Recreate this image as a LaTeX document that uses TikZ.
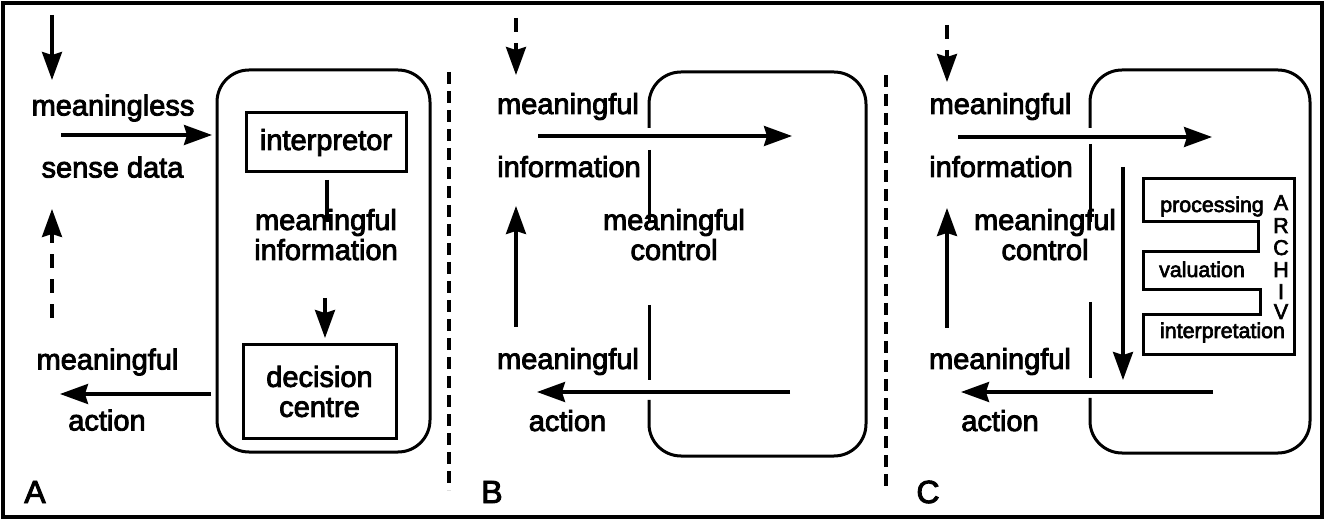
\documentclass[tikz,border=0pt]{standalone}
\usepackage{fontspec}
\setmainfont{Liberation Sans}[BoldFont={Liberation Sans},BoldFeatures={FakeBold=3}]
\usetikzlibrary{arrows.meta}
\begin{document}
\begin{tikzpicture}[x=1pt,y=-1pt,
  lbl/.style={anchor=base,inner sep=0pt,font=\fontsize{29}{30}\bfseries\selectfont,align=center},
  small/.style={anchor=base,inner sep=0pt,font=\fontsize{21.4}{22}\bfseries\selectfont},
  panel/.style={anchor=base,inner sep=0pt,font=\fontsize{32}{32}\bfseries\selectfont},
  arr/.style={line width=3.2pt,-{Stealth[length=28pt,width=20pt,inset=3pt]}},
  darr/.style={arr,dash pattern=on 14pt off 11pt},
  boxline/.style={line width=3pt},
  divider/.style={line width=3.2pt,dash pattern=on 12pt off 7pt},
  rbox/.style={line width=3pt,rounded corners=32pt}]
\useasboundingbox (0,0) rectangle (1326,521);
\draw[line width=3.2pt] (3,3) rectangle (1322,517);

% ---------- Panel A ----------
\node[lbl] (aT1) at (113,115.5) {meaningless};
\node[lbl] (aT2) at (112.5,177.5) {sense data};
\node[lbl] (aT3) at (107.5,369.5) {meaningful};
\node[lbl] (aT4) at (107,430.5) {action};
\node[panel] (aL) at (35,503) {A};
\draw[rbox] (217,70) rectangle (430,452);
\node[boxline,draw,minimum width=160pt,minimum height=59pt,inner sep=0pt,
      font=\fontsize{29}{30}\bfseries\selectfont] (interp) at (326,142.5) {interpretor};
\node[lbl] (mi) at (326,260) {meaningful\\information};
\node[boxline,draw,minimum width=153pt,minimum height=93pt,inner sep=0pt,
      font=\fontsize{29}{30}\bfseries\selectfont,align=center] (dec) at (319.5,391.5) {decision\\centre};
\coordinate (a1s) at (52,15);   \coordinate (a1e) at (52,80);
\coordinate (a2s) at (52,318);  \coordinate (a2e) at (52,209);
\coordinate (a3s) at (61,135);  \coordinate (a3e) at (212,135);
\coordinate (a4s) at (211,394); \coordinate (a4e) at (60,394);
\coordinate (a5s) at (327,180); \coordinate (a5e) at (327,222);
\coordinate (a6s) at (325,298); \coordinate (a6e) at (325,338);
\draw[arr] (a1s) -- (a1e);
\draw[darr] (a2s) -- (a2e);
\draw[arr] (a3s) -- (a3e);
\draw[arr] (a4s) -- (a4e);
\draw[line width=3.2pt] (a5s) -- (a5e);
\draw[arr] (a6s) -- (a6e);

\coordinate (d1s) at (449,72); \coordinate (d1e) at (449,490);
\draw[divider] (d1s) -- (d1e);

% ---------- Panel B ----------
\node[lbl] (bT1) at (568,114) {meaningful};
\node[lbl] (bT2) at (569,177) {information};
\node[lbl] (bT3) at (568,369) {meaningful};
\node[lbl] (bT4) at (567.5,431) {action};
\node[lbl] (bT5) at (674,260) {meaningful\\control};
\node[panel] (bL) at (492,503) {B};
\draw[rbox] (649,128) -- (649,72) -- (866,72) -- (866,456) -- (649,456) -- (649,400);
\draw[boxline] (649,150) -- (649,222);
\draw[boxline] (649,305) -- (649,380);
\coordinate (b1s) at (516,18);  \coordinate (b1e) at (516,75);
\coordinate (b2s) at (516,327); \coordinate (b2e) at (516,206);
\coordinate (b3s) at (538,136); \coordinate (b3e) at (792,136);
\coordinate (b4s) at (790,392); \coordinate (b4e) at (537,392);
\draw[darr] (b1s) -- (b1e);
\draw[arr] (b2s) -- (b2e);
\draw[arr] (b3s) -- (b3e);
\draw[arr] (b4s) -- (b4e);

\coordinate (d2s) at (886,75); \coordinate (d2e) at (886,491);
\draw[divider] (d2s) -- (d2e);

% ---------- Panel C ----------
\node[lbl] (cT1) at (1000.5,114) {meaningful};
\node[lbl] (cT2) at (1001,177) {information};
\node[lbl] (cT3) at (1000,369) {meaningful};
\node[lbl] (cT4) at (1000,431) {action};
\node[lbl] (cT5) at (1045,260) {meaningful\\control};
\node[panel] (cL) at (928,503) {C};
\draw[rbox] (1090,128) -- (1090,70) -- (1310,70) -- (1310,453) -- (1090,453) -- (1090,398);
\draw[boxline] (1090,144) -- (1090,222);
\draw[boxline] (1090,302) -- (1090,378);
\coordinate (c1s) at (947,25);   \coordinate (c1e) at (947,82);
\coordinate (c2s) at (947,328);  \coordinate (c2e) at (947,208);
\coordinate (c3s) at (958,137);  \coordinate (c3e) at (1212,137);
\coordinate (c4s) at (1213,392); \coordinate (c4e) at (961,392);
\coordinate (c5s) at (1123,167); \coordinate (c5e) at (1123,380);
\draw[darr] (c1s) -- (c1e);
\draw[arr] (c2s) -- (c2e);
\draw[arr] (c3s) -- (c3e);
\draw[arr] (c4s) -- (c4e);
\draw[arr] (c5s) -- (c5e);
% archive
\draw[boxline,line join=miter] (1143,179) -- (1294,179) -- (1294,355) -- (1143,355) -- (1143,315)
  -- (1260,315) -- (1260,290) -- (1143,290) -- (1143,252) -- (1258,252) -- (1258,222)
  -- (1143,222) -- cycle;
\node[small] (proc) at (1212,212) {processing};
\node[small] (valu) at (1202,277) {valuation};
\node[small] (intp) at (1222.5,338) {interpretation};
\node[small] (lA) at (1281,210) {A};
\node[small] (lR) at (1281,233) {R};
\node[small] (lC) at (1281,255) {C};
\node[small] (lH) at (1281,277) {H};
\node[small] (lI) at (1281,299) {I};
\node[small] (lV) at (1281,319) {V};
\end{tikzpicture}
\end{document}
